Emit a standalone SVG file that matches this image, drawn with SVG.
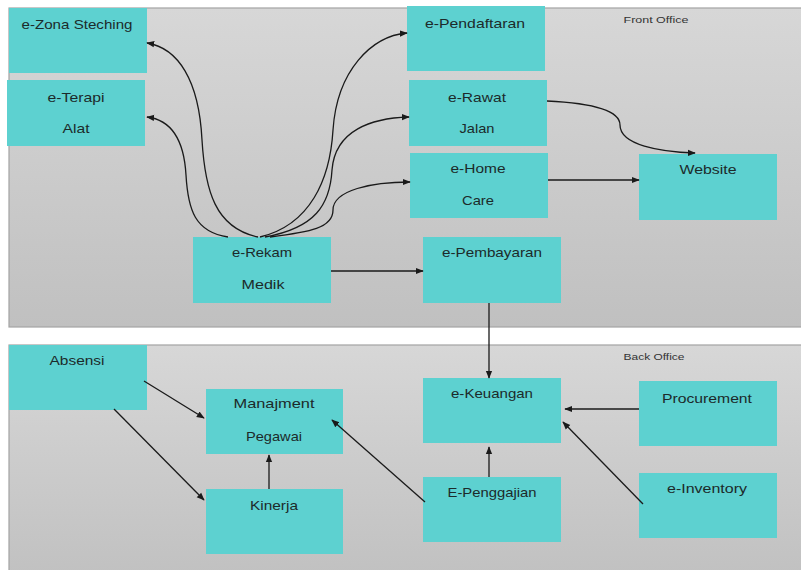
<svg xmlns="http://www.w3.org/2000/svg" width="801" height="570" viewBox="0 0 801 570">
  <defs>
    <linearGradient id="panelFill" x1="0" y1="0" x2="0" y2="1">
      <stop offset="0" stop-color="#d7d7d7"/>
      <stop offset="1" stop-color="#c0c0c0"/>
    </linearGradient>
    <marker id="arrow" viewBox="0 0 10 10" refX="9" refY="5" markerWidth="8" markerHeight="8" markerUnits="userSpaceOnUse" orient="auto">
      <path d="M0,1 L10,5 L0,9 Z" fill="#1a1a1a"/>
    </marker>
  </defs>
  <style>
    .panel { fill: url(#panelFill); stroke: #a3a3a3; stroke-width: 1.2; }
    .box { fill: #5dd1d0; }
    .lbl { font-family: "Liberation Sans", Arial, sans-serif; font-size: 13.5px; fill: #1c2a2a; text-anchor: middle; }
    .area { font-family: "Liberation Sans", Arial, sans-serif; font-size: 9px; fill: #333; text-anchor: middle; }
    .edge { fill: none; stroke: #1a1a1a; stroke-width: 1.3; marker-end: url(#arrow); }
  </style>

  <rect width="801" height="570" fill="#ffffff"/>

  <!-- office areas -->
  <g id="front-office">
    <rect class="panel" x="9" y="8" width="800" height="319"/>
    <text class="area" x="656" y="23" textLength="65" lengthAdjust="spacingAndGlyphs">Front Office</text>
  </g>
  <g id="back-office">
    <rect class="panel" x="9" y="345" width="800" height="240"/>
    <text class="area" x="654" y="360" textLength="61" lengthAdjust="spacingAndGlyphs">Back Office</text>
  </g>

  <!-- front office modules -->
  <g id="e-zona-steching">
    <rect class="box" x="9" y="8" width="138" height="65"/>
    <text class="lbl" x="77" y="29" textLength="111" lengthAdjust="spacingAndGlyphs">e-Zona Steching</text>
  </g>
  <g id="e-terapi-alat">
    <rect class="box" x="7" y="80" width="138" height="66"/>
    <text class="lbl" x="76" y="102" textLength="57" lengthAdjust="spacingAndGlyphs">e-Terapi</text>
    <text class="lbl" x="76" y="133" textLength="27" lengthAdjust="spacingAndGlyphs">Alat</text>
  </g>
  <g id="e-rekam-medik">
    <rect class="box" x="193" y="237" width="138" height="66"/>
    <text class="lbl" x="262" y="257" textLength="60" lengthAdjust="spacingAndGlyphs">e-Rekam</text>
    <text class="lbl" x="263" y="289" textLength="43" lengthAdjust="spacingAndGlyphs">Medik</text>
  </g>
  <g id="e-pendaftaran">
    <rect class="box" x="407" y="6" width="138" height="65"/>
    <text class="lbl" x="475" y="28" textLength="100" lengthAdjust="spacingAndGlyphs">e-Pendaftaran</text>
  </g>
  <g id="e-rawat-jalan">
    <rect class="box" x="409" y="80" width="138" height="66"/>
    <text class="lbl" x="477" y="102" textLength="58" lengthAdjust="spacingAndGlyphs">e-Rawat</text>
    <text class="lbl" x="477" y="133" textLength="35" lengthAdjust="spacingAndGlyphs">Jalan</text>
  </g>
  <g id="e-home-care">
    <rect class="box" x="410" y="153" width="138" height="65"/>
    <text class="lbl" x="478" y="173" textLength="55" lengthAdjust="spacingAndGlyphs">e-Home</text>
    <text class="lbl" x="478" y="205" textLength="32" lengthAdjust="spacingAndGlyphs">Care</text>
  </g>
  <g id="website">
    <rect class="box" x="639" y="154" width="138" height="66"/>
    <text class="lbl" x="708" y="174" textLength="57" lengthAdjust="spacingAndGlyphs">Website</text>
  </g>
  <g id="e-pembayaran">
    <rect class="box" x="423" y="237" width="138" height="66"/>
    <text class="lbl" x="492" y="257" textLength="100" lengthAdjust="spacingAndGlyphs">e-Pembayaran</text>
  </g>

  <!-- back office modules -->
  <g id="absensi">
    <rect class="box" x="9" y="345" width="138" height="65"/>
    <text class="lbl" x="77" y="365" textLength="55" lengthAdjust="spacingAndGlyphs">Absensi</text>
  </g>
  <g id="manajment-pegawai">
    <rect class="box" x="206" y="389" width="137" height="65"/>
    <text class="lbl" x="274" y="408" textLength="81" lengthAdjust="spacingAndGlyphs">Manajment</text>
    <text class="lbl" x="274" y="441" textLength="56" lengthAdjust="spacingAndGlyphs">Pegawai</text>
  </g>
  <g id="kinerja">
    <rect class="box" x="206" y="489" width="137" height="65"/>
    <text class="lbl" x="274" y="510" textLength="48" lengthAdjust="spacingAndGlyphs">Kinerja</text>
  </g>
  <g id="e-keuangan">
    <rect class="box" x="423" y="378" width="138" height="65"/>
    <text class="lbl" x="492" y="398" textLength="82" lengthAdjust="spacingAndGlyphs">e-Keuangan</text>
  </g>
  <g id="procurement">
    <rect class="box" x="639" y="381" width="138" height="65"/>
    <text class="lbl" x="707" y="403" textLength="90" lengthAdjust="spacingAndGlyphs">Procurement</text>
  </g>
  <g id="e-penggajian">
    <rect class="box" x="423" y="477" width="138" height="65"/>
    <text class="lbl" x="492" y="497" textLength="89" lengthAdjust="spacingAndGlyphs">E-Penggajian</text>
  </g>
  <g id="e-inventory">
    <rect class="box" x="639" y="473" width="138" height="65"/>
    <text class="lbl" x="707" y="493" textLength="80" lengthAdjust="spacingAndGlyphs">e-Inventory</text>
  </g>

  <!-- connectors, drawn over the module boxes -->
  <g id="connectors">
    <path class="edge" d="M258,237 C215,228 205,190 202,140 C199,80 178,48 147,43"/>
    <path class="edge" d="M228,237 C195,232 188,210 186,175 C184,140 172,120 147,117"/>
    <path class="edge" d="M260,237 C310,225 330,180 333,130 C337,70 372,36 407,33"/>
    <path class="edge" d="M265,237 C315,228 330,205 332,170 C335,130 372,118 409,117"/>
    <path class="edge" d="M270,237 C310,232 333,228 333,210 C333,190 372,182 410,182"/>
    <path class="edge" d="M331,271 L423,271"/>
    <path class="edge" d="M547,101 C590,103 620,110 620,125 C620,145 660,152 695,153"/>
    <path class="edge" d="M548,180 L639,180"/>
    <path class="edge" d="M489,303 L489,378"/>
    <path class="edge" d="M639,409 L565,409"/>
    <path class="edge" d="M643,504 L563,422"/>
    <path class="edge" d="M489,477 L489,447"/>
    <path class="edge" d="M425,502 L332,420"/>
    <path class="edge" d="M144,381 L204,418"/>
    <path class="edge" d="M114,409 L204,500"/>
    <path class="edge" d="M269,489 L269,455"/>
  </g>
</svg>
